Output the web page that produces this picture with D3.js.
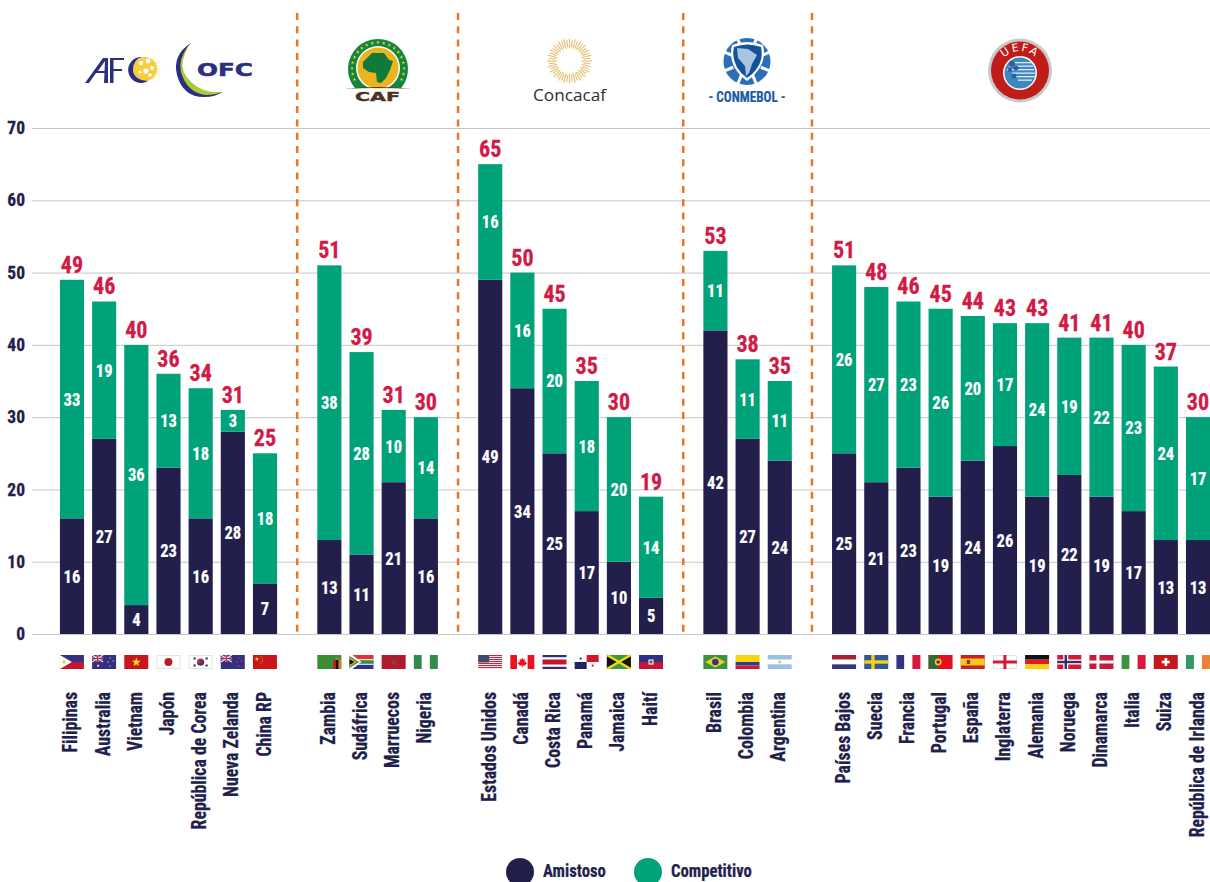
<!DOCTYPE html>
<html><head><meta charset="utf-8">
<script src="https://cdn.jsdelivr.net/npm/d3@7/dist/d3.min.js"></script>
<style>
html,body{margin:0;padding:0;background:#fff;overflow:hidden}
svg{display:block}
text{font-family:"Liberation Sans Narrow","Roboto Condensed",Roboto,sans-serif;font-weight:700}
</style></head><body>
<svg id="c" width="1210" height="882"></svg>
<script>
const confederations = [
  ["Filipinas","Australia","Vietnam","Japón","República de Corea","Nueva Zelanda","China RP"],
  ["Zambia","Sudáfrica","Marruecos","Nigeria"],
  ["Estados Unidos","Canadá","Costa Rica","Panamá","Jamaica","Haití"],
  ["Brasil","Colombia","Argentina"],
  ["Países Bajos","Suecia","Francia","Portugal","España","Inglaterra","Alemania","Noruega","Dinamarca","Italia","Suiza","República de Irlanda"]
];
const categories = confederations.flat();
const amistoso =    [16,27,4,23,16,28,7, 13,11,21,16, 49,34,25,17,10,5, 42,27,24, 25,21,23,19,24,26,19,22,19,17,13,13];
const competitivo = [33,19,36,13,18,3,18, 38,28,10,14, 16,16,20,18,20,14, 11,11,11, 26,27,23,26,20,17,24,19,22,23,24,17];
const seriesNames = ["Amistoso","Competitivo"];
const yTicks = [0,10,20,30,40,50,60,70];

const NAVY="#231f4c", GREEN="#00a27a", RED="#d11a46", ORANGE="#e8752a", GRID="#c6c6c6";
const svg=d3.select("#c");

const slots=[];
confederations.forEach((g,i)=>{ g.forEach(c=>slots.push(c)); if(i<confederations.length-1) slots.push("gap"+i); });
const x=d3.scaleBand().domain(slots).range([55.9,1214.1]).paddingInner(0.25).paddingOuter(0.125);
const y=d3.scaleLinear().domain([0,70]).range([634,128]);

const ax=svg.append("g").attr("transform","translate(32,0)")
  .call(d3.axisLeft(y).tickValues(yTicks).tickSize(-1178).tickPadding(7));
ax.select(".domain").remove();
ax.selectAll("line").attr("stroke",GRID).attr("stroke-width",1);
ax.selectAll("text").attr("fill",NAVY).attr("stroke",NAVY).attr("stroke-width",.3).style("font-size","17.5px").attr("x",-7);

const rows=categories.map((c,i)=>({c,Amistoso:amistoso[i],Competitivo:competitivo[i]}));
const stacked=d3.stack().keys(seriesNames)(rows);
const color=d3.scaleOrdinal(seriesNames,[NAVY,GREEN]);
const layer=svg.append("g").selectAll("g").data(stacked).join("g").attr("fill",d=>color(d.key));
layer.selectAll("rect").data(d=>d).join("rect")
  .attr("x",d=>x(d.data.c)).attr("width",x.bandwidth())
  .attr("y",d=>y(d[1])).attr("height",d=>y(d[0])-y(d[1]));
layer.selectAll("text").data(d=>d).join("text")
  .attr("transform",d=>`translate(${x(d.data.c)+x.bandwidth()/2},${(y(d[0])+y(d[1]))/2}) scale(.92,1)`)
  .attr("dy","0.36em").attr("text-anchor","middle").attr("fill","#fff").attr("stroke","#fff").attr("stroke-width",.2)
  .style("font-size","18px").text(d=>d[1]-d[0]);

svg.append("g").selectAll("text").data(rows).join("text")
  .attr("transform",d=>`translate(${x(d.c)+x.bandwidth()/2},${y(d.Amistoso+d.Competitivo)-7}) scale(.9,1)`)
  .attr("text-anchor","middle").attr("fill",RED).attr("stroke",RED).attr("stroke-width",.3).style("font-size","24.5px")
  .text(d=>d.Amistoso+d.Competitivo);

const seps=[0,1,2,3].map(i=>x("gap"+i)+x.bandwidth()/2);
svg.append("g").selectAll("line").data(seps).join("line")
  .attr("x1",d=>d).attr("x2",d=>d).attr("y1",13).attr("y2",634)
  .attr("stroke",ORANGE).attr("stroke-width",2.5).attr("stroke-dasharray","7 6.3");

svg.append("g").selectAll("text").data(categories).join("text")
  .attr("transform",d=>`translate(${x(d)+x.bandwidth()/2+5.5},692) rotate(-90) scale(.89,1)`)
  .attr("text-anchor","end").attr("fill",NAVY).attr("stroke",NAVY).attr("stroke-width",.25).style("font-size","20px").text(d=>d);

function bands(g,cols,vertical){const n=cols.length;cols.forEach((c,i)=>{
  if(vertical) g.append("rect").attr("x",24*i/n).attr("width",24/n).attr("height",14).attr("fill",c);
  else g.append("rect").attr("y",14*i/n).attr("height",14/n).attr("width",24).attr("fill",c);});}
function R(g,a,b,w,h,f){g.append("rect").attr("x",a).attr("y",b).attr("width",w).attr("height",h).attr("fill",f);}
function P(g,d,f){return g.append("path").attr("d",d).attr("fill",f);}
function C(g,a,b,r,f){g.append("circle").attr("cx",a).attr("cy",b).attr("r",r).attr("fill",f);}
function star(g,a,b,r,f){const p=d3.range(10).map(i=>{const t=-Math.PI/2+i*Math.PI/5,q=i%2?r*.42:r;return [a+q*Math.cos(t),b+q*Math.sin(t)]});P(g,"M"+p.join("L")+"Z",f);}
function border(g){g.append("rect").attr("x",.5).attr("y",.5).attr("width",23).attr("height",13).attr("fill","none").attr("stroke","#e2e2e2");}
function ukJack(g){R(g,0,0,11,7,"#34307f");g.append("path").attr("d","M0 0L11 7M11 0L0 7").attr("stroke","#f3dfe3").attr("stroke-width",1.4);R(g,4.5,0,2,7,"#e4d3d8");R(g,0,2.5,11,2,"#e4d3d8");R(g,5,0,1,7,"#c8193c");R(g,0,3,11,1,"#c8193c");}
const flags={
 "Filipinas":g=>{bands(g,["#35327f","#c4162f"]);P(g,"M0 0L12 7L0 14Z","#fff");C(g,4,7,1.8,"#f2cf45");},
 "Australia":g=>{R(g,0,0,24,14,"#34307f");ukJack(g);star(g,6,10.8,1.6,"#fff");[[18,3],[21,6],[16,7],[18,11]].forEach(p=>star(g,p[0],p[1],.9,"#fff"));},
 "Vietnam":g=>{R(g,0,0,24,14,"#c8161d");star(g,12,7.2,4.6,"#fbe126");},
 "Japón":g=>{R(g,0,0,24,14,"#fff");border(g);C(g,12,7,4,"#b71c25");},
 "República de Corea":g=>{R(g,0,0,24,14,"#fff");border(g);C(g,12,7,3.6,"#c8262f");P(g,"M8.4 7A3.6 3.6 0 0 0 15.6 7A1.8 1.8 0 0 0 12 7A1.8 1.8 0 0 1 8.4 7Z","#2a3f87");[[6,3.5],[18,3.5],[6,10.5],[18,10.5]].forEach(p=>C(g,p[0],p[1],1.3,"#555"));},
 "Nueva Zelanda":g=>{R(g,0,0,24,14,"#34307f");ukJack(g);[[18,3],[21,6],[16,7],[18,11]].forEach(p=>star(g,p[0],p[1],.9,"#d66"));},
 "China RP":g=>{R(g,0,0,24,14,"#ca1618");star(g,4,4,2.4,"#f7d51d");[[8,1.5],[9.5,3.5],[9.5,6],[8,8]].forEach(p=>star(g,p[0],p[1],.8,"#f7d51d"));},
 "Zambia":g=>{R(g,0,0,24,14,"#3a8f35");R(g,16,5,2.7,9,"#c8192c");R(g,18.7,5,2.7,9,"#111");R(g,21.3,5,2.7,9,"#e8781e");P(g,"M17 3L23 3L20 5Z","#d77a1e");},
 "Sudáfrica":g=>{R(g,0,0,24,7,"#e2333a");R(g,0,7,24,7,"#35307f");R(g,0,4.2,24,5.6,"#fff");R(g,0,5.2,24,3.6,"#2f8f4d");P(g,"M0 0L3 0L12 7L3 14L0 14Z","#fff");P(g,"M0 1L9.5 7L0 13Z","#2f8f4d");P(g,"M0 2.5L7 7L0 11.5Z","#f0b92b");P(g,"M0 4L5 7L0 10Z","#111");},
 "Marruecos":g=>{R(g,0,0,24,14,"#b2182f");star(g,12,7.3,3.4,"#4f6f35");C(g,12,7.3,1,"#b2182f");},
 "Nigeria":g=>bands(g,["#338a4b","#fff","#338a4b"],true),
 "Estados Unidos":g=>{d3.range(7).forEach(i=>{R(g,0,i*2,24,1,"#c9263c");R(g,0,i*2+1,24,1,"#f6e6e8");});R(g,0,0,11,7.5,"#3f4a74");},
 "Canadá":g=>{R(g,0,0,6.7,14,"#e8141f");R(g,6.7,0,10.6,14,"#fff");R(g,17.3,0,6.7,14,"#e8141f");P(g,"M12 2.5L13.2 4.8L14.8 4L14.2 7L16 6.3L15.6 7.8L17 8.5L14.8 9.8L15 10.8L12.4 10.4L12.4 12.5L11.6 12.5L11.6 10.4L9 10.8L9.2 9.8L7 8.5L8.4 7.8L8 6.3L9.8 7L9.2 4L10.8 4.8Z","#e8141f");},
 "Costa Rica":g=>{R(g,0,0,24,14,"#fff");R(g,0,0,24,2.2,"#2f2f78");R(g,0,11.8,24,2.2,"#2f2f78");R(g,0,4.5,24,5,"#c2182f");},
 "Panamá":g=>{R(g,0,0,24,14,"#fff");R(g,12,0,12,7,"#d5162e");R(g,0,7,12,7,"#20255c");star(g,6,3.5,1.7,"#20255c");star(g,18,10.5,1.7,"#d5162e");},
 "Jamaica":g=>{R(g,0,0,24,14,"#3f9a3b");P(g,"M0 0L12 7L0 14Z","#141414");P(g,"M24 0L12 7L24 14Z","#141414");g.append("path").attr("d","M0 0L24 14M24 0L0 14").attr("stroke","#f5d81f").attr("stroke-width",2.2);},
 "Haití":g=>{R(g,0,0,24,7,"#2f2f85");R(g,0,7,24,7,"#c4163a");R(g,9.5,4.5,5,5,"#fff");R(g,10.5,5.5,3,3,"#4a6b45");},
 "Brasil":g=>{R(g,0,0,24,14,"#3d9339");P(g,"M12 1.5L22 7L12 12.5L2 7Z","#f1cf2a");C(g,12,7,3.3,"#2d3a85");},
 "Colombia":g=>{R(g,0,0,24,7,"#f9d50f");R(g,0,7,24,3.5,"#2f3d8f");R(g,0,10.5,24,3.5,"#cf1737");},
 "Argentina":g=>{bands(g,["#9cc0e4","#fff","#9cc0e4"]);C(g,12,7,1.4,"#e8b54a");},
 "Países Bajos":g=>bands(g,["#a8202f","#fff","#35387f"]),
 "Suecia":g=>{R(g,0,0,24,14,"#2f5a98");R(g,7,0,3.4,14,"#f5cf1c");R(g,0,5.3,24,3.4,"#f5cf1c");},
 "Francia":g=>bands(g,["#33337f","#fff","#d9173a"],true),
 "Portugal":g=>{R(g,0,0,24,14,"#e2101f");R(g,0,0,9.6,14,"#2f6b37");C(g,9.6,7,3.4,"#f2cb2b");C(g,9.6,7,1.8,"#7b1a1a");},
 "España":g=>{R(g,0,0,24,14,"#c9202c");R(g,0,3.5,24,7,"#f7c818");R(g,6,5,3.4,4,"#8a3a1c");},
 "Inglaterra":g=>{R(g,0,0,24,14,"#fff");border(g);R(g,10.5,0,3,14,"#cb1d36");R(g,0,5.5,24,3,"#cb1d36");},
 "Alemania":g=>bands(g,["#141211","#e01b1f","#fbcf0a"]),
 "Noruega":g=>{R(g,0,0,24,14,"#d5173a");R(g,6,0,5,14,"#fff");R(g,0,4.5,24,5,"#fff");R(g,7.3,0,2.4,14,"#2c3168");R(g,0,5.8,24,2.4,"#2c3168");},
 "Dinamarca":g=>{R(g,0,0,24,14,"#c8193c");R(g,7,0,3,14,"#fff");R(g,0,5.5,24,3,"#fff");},
 "Italia":g=>bands(g,["#3d9440","#fff","#d9173a"],true),
 "Suiza":g=>{R(g,0,0,24,14,"#c6181c");R(g,10.8,3,2.6,8,"#fff");R(g,8,5.7,8,2.6,"#fff");},
 "República de Irlanda":g=>bands(g,["#2f9a63","#fff","#f08035"],true)
};
const fg=svg.append("g");
categories.forEach(c=>{const g=fg.append("g").attr("transform",`translate(${x(c)},655)`);flags[c](g);});

// logos
const logos=svg.append("g");
const LB="#2b2f80";
// AFC
const afc=logos.append("g");
P(afc,"M85 83L103 58L108 58L108 83L104 83L104.5 73L96 73L89 83Z M98 71L104.5 71L105 61Z",LB).attr("fill-rule","evenodd");
P(afc,"M110 58L124 58L124 60L113.5 60L113.5 69L122 69L122 71L113.5 71L113.5 83L110 83Z",LB);
C(afc,145,69,12,"#f7cd3c");
[[141,63,2.2],[148,61,2.4],[152,68,2],[146,71,2.6],[140,72,1.6],[150,75,1.8]].forEach(p=>C(afc,p[0],p[1],p[2],"#fff"));
d3.range(-4,5).forEach(i=>{const a=i*.22;afc.append("line").attr("x1",145+12*Math.cos(a)).attr("y1",69+12*Math.sin(a)).attr("x2",145+(i%2?14:16)*Math.cos(a)).attr("y2",69+(i%2?14:16)*Math.sin(a)).attr("stroke","#f7d766").attr("stroke-width",.7);});
P(afc,"M142 57A13 13 0 1 0 148 81Q133 80 133 69Q134 59 142 57Z",LB);
// OFC
const ofc=logos.append("g");
P(ofc,"M191 43Q172 55 177 75Q183 97 204 97Q216 97 222 92Q205 95 192 85Q178 72 182 60Q184 50 191 43Z",LB);
P(ofc,"M189 46Q178 58 181 72Q187 93 206 95Q216 95 222 92Q205 94 192 83Q180 72 183 60Q185 52 189 46Z","#a9cb35");
ofc.append("text").attr("x",197).attr("y",76).attr("fill",LB).attr("stroke",LB).attr("stroke-width",.5).style("font-family","'DejaVu Sans',sans-serif").style("font-size","18px").style("font-weight",700).attr("textLength",56).attr("lengthAdjust","spacingAndGlyphs").text("OFC");
// CAF
const caf=logos.append("g");
P(caf,"M354.8 88A30 30 0 1 1 401.2 88Z","#14873f");
C(caf,378,68,22,"#fff");
C(caf,378,68,20.5,"#ecb41f");
P(caf,"M363 62L372 53L384 53L389 60L393 61L390 70L386 78L381 83L377 82L376 73L369 72L363 68Z","#0f7a3a");
P(caf,"M344 89Q378 85 412 89Q378 87 344 89Z","#5a3a22");
d3.range(19).forEach(i=>{const a=Math.PI*(0.86+i*1.28/18),cx=378+26*Math.cos(a),cy=68.5+26*Math.sin(a);star(caf,cx,cy,1.9,"#f0cf30");});
caf.append("text").attr("x",377.5).attr("y",101).attr("text-anchor","middle").attr("fill","#4a3322").attr("stroke","#4a3322").attr("stroke-width",.4).style("font-family","'DejaVu Sans',sans-serif").style("font-size","13px").style("font-weight",700).attr("textLength",45).attr("lengthAdjust","spacingAndGlyphs").text("CAF");
// Concacaf
const cc=logos.append("g");
d3.range(48).forEach(i=>{const a=i/48*2*Math.PI,r0=i%2?14:12.5,r1=i%2?21:22.5;cc.append("line").attr("x1",569.5+r0*Math.cos(a)).attr("y1",61+r0*Math.sin(a)).attr("x2",569.5+r1*Math.cos(a)).attr("y2",61+r1*Math.sin(a)).attr("stroke","#e3c47d").attr("stroke-width",1.2);});
cc.append("text").attr("x",569.5).attr("y",101).attr("text-anchor","middle").attr("fill","#2e2e2e").style("font-family","'Open Sans',sans-serif").style("font-size","16px").style("font-weight",400).attr("textLength",73).attr("lengthAdjust","spacingAndGlyphs").text("Concacaf");
// Conmebol
const cm=logos.append("g");
C(cm,747,61.5,23.5,"#2a6fb8");
d3.range(8).forEach(i=>{const a=Math.PI*(i/4+.125);cm.append("line").attr("x1",747+15*Math.cos(a)).attr("y1",61.5+15*Math.sin(a)).attr("x2",747+25*Math.cos(a)).attr("y2",61.5+25*Math.sin(a)).attr("stroke","#fff").attr("stroke-width",3);});
P(cm,"M732 45Q747 39 763 45Q768 66 747 81Q727 66 732 45Z","#fff");
P(cm,"M734 47Q747 42 761 47Q765 65 747 78Q730 65 734 47Z","#12539b");
P(cm,"M737 48L748 49L757 55L752 64L749 73L746 76L745 66L738 58Z","#a9c4df");
cm.append("text").attr("x",747).attr("y",101.5).attr("text-anchor","middle").attr("fill","#1a5ba6").attr("stroke","#1a5ba6").attr("stroke-width",.2).style("font-size","15.5px").attr("textLength",77).attr("lengthAdjust","spacingAndGlyphs").text("- CONMEBOL -");
// UEFA
const ue=logos.append("g");
C(ue,1020,70.5,32,"#c9c9c9");
C(ue,1020,70.5,29,"#bf1d1a");
C(ue,1020,73,17,"#fff");
C(ue,1020,73,15.5,"#3f87c2");
[[1012,62,20],[1009,65.5,24],[1007,69,27],[1012,72.5,23],[1016,76,19],[1018,79.5,14]].forEach(p=>ue.append("rect").attr("x",p[0]).attr("y",p[1]).attr("width",p[2]).attr("height",1.3).attr("fill","#dfe9f2"));
[[1012,64,3],[1016,68,2.5],[1010,70,2],[1014,76,2.5]].forEach(p=>C(ue,p[0],p[1],p[2],"#2c5f94"));
ue.append("path").attr("id","uefaArc").attr("d","M998 73A22 22 0 0 1 1042 73").attr("fill","none");
ue.append("text").attr("fill","#fff").style("font-family","'DejaVu Sans',sans-serif").style("font-size","11px").style("font-weight",400).attr("letter-spacing","2px").append("textPath").attr("href","#uefaArc").attr("startOffset","50%").attr("text-anchor","middle").text("UEFA");

// legend
const legendX=[520,648], legendT=[543,671];
const lg=svg.append("g").selectAll("g").data(seriesNames).join("g");
lg.append("circle").attr("cx",(d,i)=>legendX[i]).attr("cy",872).attr("r",14).attr("fill",d=>color(d));
lg.append("text").attr("transform",(d,i)=>`translate(${legendT[i]},877) scale(.88,1)`).attr("fill",NAVY).attr("stroke",NAVY).attr("stroke-width",.25).style("font-size","19px").text(d=>d);
</script>
</body></html>
